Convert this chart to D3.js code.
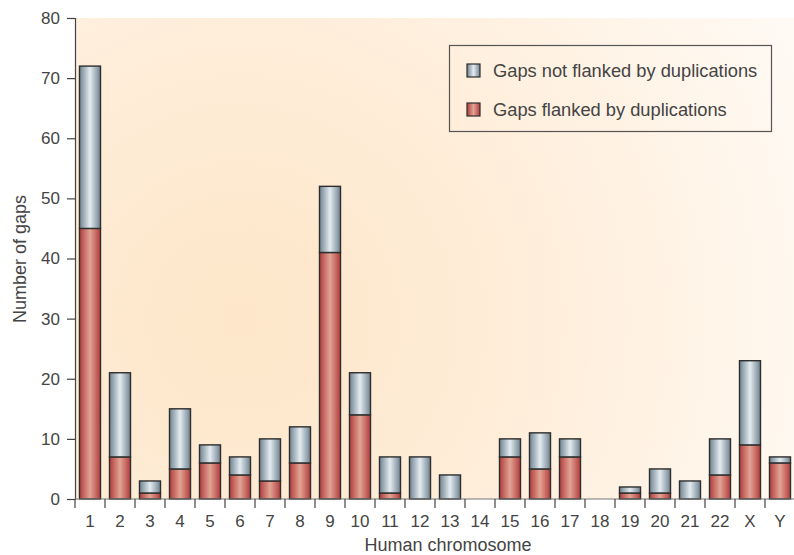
<!DOCTYPE html>
<html lang="en">
<head>
<meta charset="UTF-8">
<title>Gaps per chromosome</title>
<script src="https://cdn.jsdelivr.net/npm/d3@7"></script>
<style>
  body { margin: 0; background: #fff; }
  svg text { font-family: "Liberation Sans", Arial, sans-serif; fill: #444; }
</style>
</head>
<body>
<script>
// chromosomes and gap counts
var chromosomes = ["1","2","3","4","5","6","7","8","9","10","11","12","13","14","15","16","17","18","19","20","21","22","X","Y"];
var flanked    = [45, 7, 1, 5, 6, 4, 3, 6, 41, 14, 1, 0, 0, 0, 7, 5, 7, 0, 1, 1, 0, 4, 9, 6];
var notFlanked = [27, 14, 2, 10, 3, 3, 7, 6, 11, 7, 6, 7, 4, 0, 3, 6, 3, 0, 1, 4, 3, 6, 14, 1];
var yTicks = [0, 10, 20, 30, 40, 50, 60, 70, 80];
var seriesNames = ["Gaps not flanked by duplications", "Gaps flanked by duplications"];

var W = 794, H = 555;
// plot edges ("top" is taken by window.top, so prefix them)
var pLeft = 75, pRight = 795, pTop = 18, pBottom = 499;

var svg = d3.select("body").append("svg")
    .attr("width", W)
    .attr("height", H);

var defs = svg.append("defs");

var bg = defs.append("radialGradient")
    .attr("id", "bg")
    .attr("gradientUnits", "userSpaceOnUse")
    .attr("cx", 240).attr("cy", 320).attr("r", 620);
bg.append("stop").attr("offset", "0%").attr("stop-color", "#fde6c8");
bg.append("stop").attr("offset", "50%").attr("stop-color", "#ffeedb");
bg.append("stop").attr("offset", "100%").attr("stop-color", "#fffaf4");

function barGradient(id, edge, mid) {
    var g = defs.append("linearGradient").attr("id", id)
        .attr("x1", "0%").attr("x2", "100%").attr("y1", "0%").attr("y2", "0%");
    g.append("stop").attr("offset", "0%").attr("stop-color", edge);
    g.append("stop").attr("offset", "50%").attr("stop-color", mid);
    g.append("stop").attr("offset", "100%").attr("stop-color", edge);
}
barGradient("gBlue", "#6f8390", "#e4ebf0");
barGradient("gRed", "#b23c3c", "#e2a494");

// plot background
svg.append("rect")
    .attr("x", pLeft).attr("y", pTop)
    .attr("width", 800 - pLeft).attr("height", pBottom - pTop)
    .attr("fill", "url(#bg)");

var x = d3.scaleBand()
    .domain(chromosomes)
    .range([pLeft, pRight])
    .paddingInner(0.3)
    .paddingOuter(0.15);

var y = d3.scaleLinear()
    .domain([0, 80])
    .range([pBottom, pTop]);

var rows = chromosomes.map(function(c, i) {
    return { chr: c, flanked: flanked[i], notFlanked: notFlanked[i] };
});

var stack = d3.stack().keys(["flanked", "notFlanked"]);
var layers = stack(rows);
var fills = { flanked: "url(#gRed)", notFlanked: "url(#gBlue)" };

svg.append("g").selectAll("g")
    .data(layers)
    .join("g")
    .attr("fill", function(d) { return fills[d.key]; })
    .selectAll("rect")
    .data(function(d) { return d.filter(function(p) { return p[1] > p[0]; }); })
    .join("rect")
    .attr("x", function(d) { return x(d.data.chr); })
    .attr("width", x.bandwidth())
    .attr("y", function(d) { return y(d[1]); })
    .attr("height", function(d) { return y(d[0]) - y(d[1]); })
    .attr("stroke", "#2e2e2e")
    .attr("stroke-width", 1.4);

// y axis
var yAxis = svg.append("g")
    .attr("transform", "translate(" + pLeft + ",0)")
    .call(d3.axisLeft(y).tickValues(yTicks).tickSize(8).tickPadding(7));
yAxis.select(".domain").attr("stroke", "#444").attr("stroke-width", 1.2);
yAxis.selectAll(".tick line").attr("stroke", "#444").attr("stroke-width", 1.2);
yAxis.selectAll(".tick text").style("font-size", "17px").attr("fill", "#444");

// x axis: ticks on band boundaries
var xAxis = svg.append("g")
    .attr("transform", "translate(0," + pBottom + ")");
xAxis.append("line")
    .attr("x1", pLeft).attr("x2", 800)
    .attr("stroke", "#777").attr("stroke-width", 1.2);
var step = x.step();
var bounds = d3.range(chromosomes.length).map(function(i) { return pLeft + i * step; });
xAxis.selectAll("line.tk")
    .data(bounds)
    .join("line")
    .attr("class", "tk")
    .attr("x1", function(d) { return d; }).attr("x2", function(d) { return d; })
    .attr("y1", 0).attr("y2", 9)
    .attr("stroke", "#444").attr("stroke-width", 1.2);
xAxis.selectAll("text")
    .data(chromosomes)
    .join("text")
    .attr("x", function(d) { return x(d) + x.bandwidth() / 2; })
    .attr("y", 28)
    .attr("text-anchor", "middle")
    .style("font-size", "17px")
    .text(function(d) { return d; });

// axis titles
svg.append("text")
    .attr("x", 448).attr("y", 551)
    .attr("text-anchor", "middle")
    .style("font-size", "18px")
    .text("Human chromosome");
svg.append("text")
    .attr("transform", "translate(26,259) rotate(-90)")
    .attr("text-anchor", "middle")
    .style("font-size", "18px")
    .text("Number of gaps");

// legend
var legend = svg.append("g");
legend.append("rect")
    .attr("x", 449.5).attr("y", 45.5)
    .attr("width", 322).attr("height", 86)
    .attr("fill", "none")
    .attr("stroke", "#555").attr("stroke-width", 1.2);
var legendFills = ["url(#gBlue)", "url(#gRed)"];
seriesNames.forEach(function(name, i) {
    var ly = 71 + i * 39;
    legend.append("rect")
        .attr("x", 467).attr("y", ly - 7)
        .attr("width", 13).attr("height", 13)
        .attr("fill", legendFills[i])
        .attr("stroke", "#2e2e2e").attr("stroke-width", 1.2);
    legend.append("text")
        .attr("x", 493).attr("y", ly + 6)
        .style("font-size", "18.3px")
        .attr("fill", "#333")
        .text(name);
});
</script>
</body>
</html>
